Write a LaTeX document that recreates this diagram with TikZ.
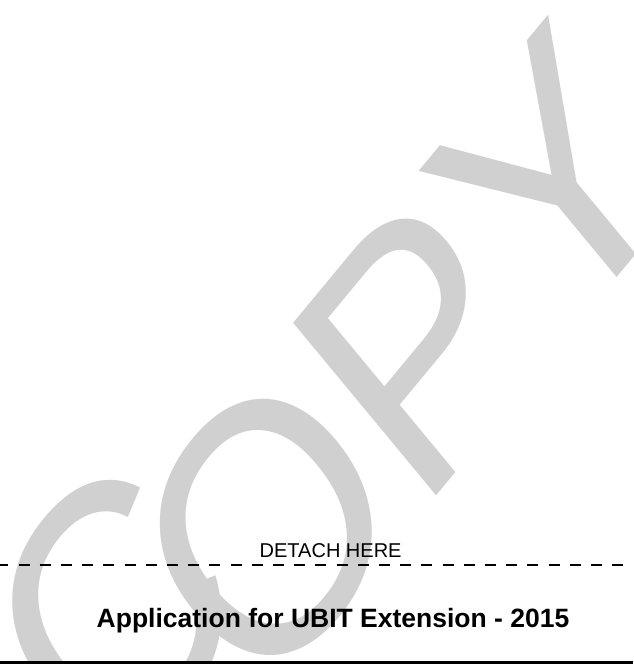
\documentclass[tikz,border=0pt]{standalone}
\usepackage{fontspec}
\setmainfont{Liberation Sans}
\usepackage{tikz}
\usetikzlibrary{positioning}
\definecolor{copygray}{RGB}{208,208,208}

\begin{document}
\begin{tikzpicture}[x=1pt,y=1pt]
\clip (0,0) rectangle (633,664);
% watermark, turned and stretched upwards
\coordinate (copyorigin) at (107,-229);
\begin{scope}[yscale=1.207]
\node [copygray, rotate=45, transform shape, anchor=base west, inner sep=0] (copy) at (copyorigin)
  {\fontsize{294}{294}\selectfont\kern0.21em\raisebox{0.2em}{C}\kern-0.21em OPY};
\end{scope}
% cut line
\coordinate (cutL) at (-2.7,99);
\coordinate (cutR) at (633,99);
\draw [line width=1.3pt, dash pattern=on 11pt off 10.2pt] (cutL) -- (cutR);
\node [anchor=base west, inner sep=0] (detach) at (259.5,106)
  {\fontsize{20}{21}\selectfont DETACH HERE};
% title
\node [anchor=base west, inner sep=0] (title) at (96.5,36)
  {\fontsize{26.5}{28}\selectfont\bfseries Application for UBIT Extension - 2015};
\fill [black] (0,0) rectangle (633,2.7);
\end{tikzpicture}
\end{document}
